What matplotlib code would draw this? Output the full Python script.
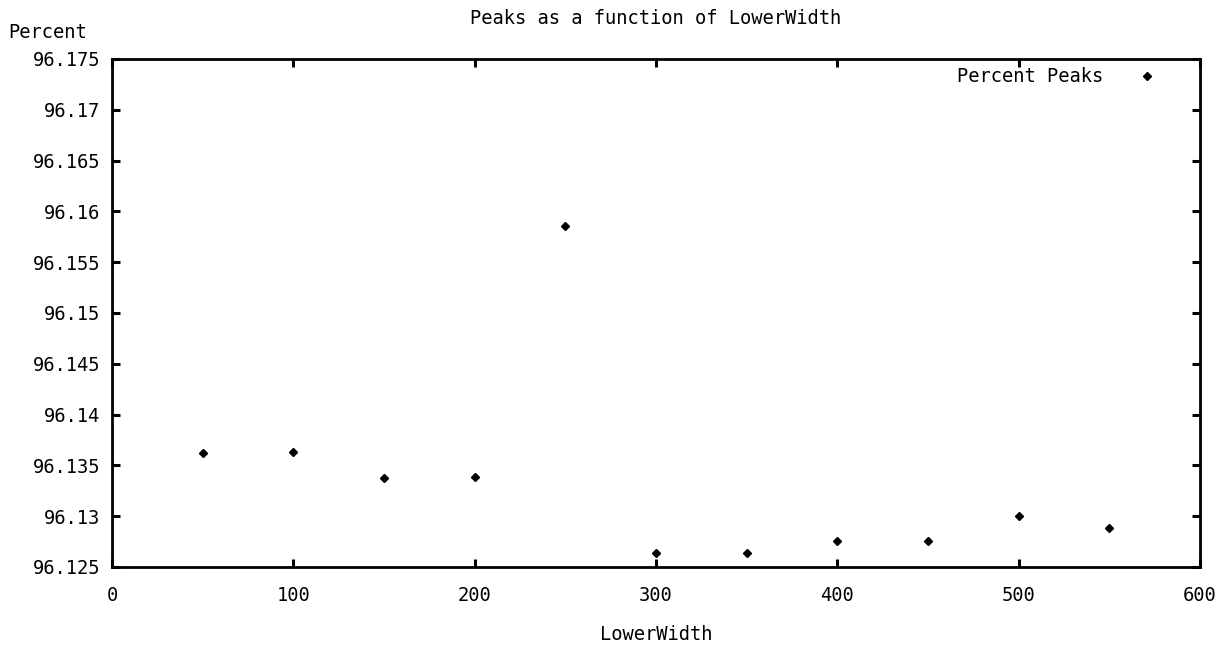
import matplotlib
matplotlib.use("Agg")
import matplotlib.pyplot as plt
from matplotlib.ticker import FixedLocator

lower_width = [50, 100, 150, 200, 250, 300, 350, 400, 450, 500, 550]
percent_peaks = [96.1362, 96.1363, 96.1338, 96.1339, 96.1586, 96.1264, 96.1264,
                 96.1276, 96.1276, 96.1300, 96.1288]
x_ticks = [0, 100, 200, 300, 400, 500, 600]
y_ticks = [96.125, 96.13, 96.135, 96.14, 96.145, 96.15, 96.155, 96.16, 96.165, 96.17, 96.175]
y_tick_labels = ["96.125", "96.13", "96.135", "96.14", "96.145", "96.15", "96.155",
                 "96.16", "96.165", "96.17", "96.175"]

plt.rcParams['font.family'] = ['DejaVu Sans Mono']

W, H = 1226, 648
fig = plt.figure(figsize=(W / 100, H / 100), dpi=100)
left, right, top, bottom = 112, 1200, 59, 567
ax = fig.add_axes([left / W, 1 - bottom / H, (right - left) / W, (bottom - top) / H])

ax.plot(lower_width, percent_peaks, linestyle='none', marker='D', markersize=4.5,
        color='black', label='Percent Peaks')

ax.set_xlim(0, 600)
ax.set_ylim(96.125, 96.175)
ax.xaxis.set_major_locator(FixedLocator(x_ticks))
ax.set_xticklabels([str(v) for v in x_ticks])
ax.yaxis.set_major_locator(FixedLocator(y_ticks))
ax.set_yticklabels(y_tick_labels)

ax.tick_params(direction='in', length=6, width=2.2, top=True, right=True,
               labelsize=13.5, colors='black')
ax.tick_params(axis='x', pad=14)
ax.tick_params(axis='y', pad=8.5)
for s in ax.spines.values():
    s.set_linewidth(2)
    s.set_color('black')

fs = 13.5
fig.text(656 / W, 1 - 18 / H, "Peaks as a function of LowerWidth", ha='center', va='center', fontsize=fs)
fig.text(8 / W, 1 - 33 / H, "Percent", ha='left', va='center', fontsize=fs)
fig.text(656 / W, 1 - 635 / H, "LowerWidth", ha='center', va='center', fontsize=fs)

leg = ax.legend(loc='upper right', frameon=False, fontsize=fs, markerfirst=False,
                handlelength=1.5, borderaxespad=0, handletextpad=1.6,
                bbox_to_anchor=(1169 / W, 1 - 60 / H), bbox_transform=fig.transFigure)

fig.savefig("out.png", dpi=100, facecolor='white')
